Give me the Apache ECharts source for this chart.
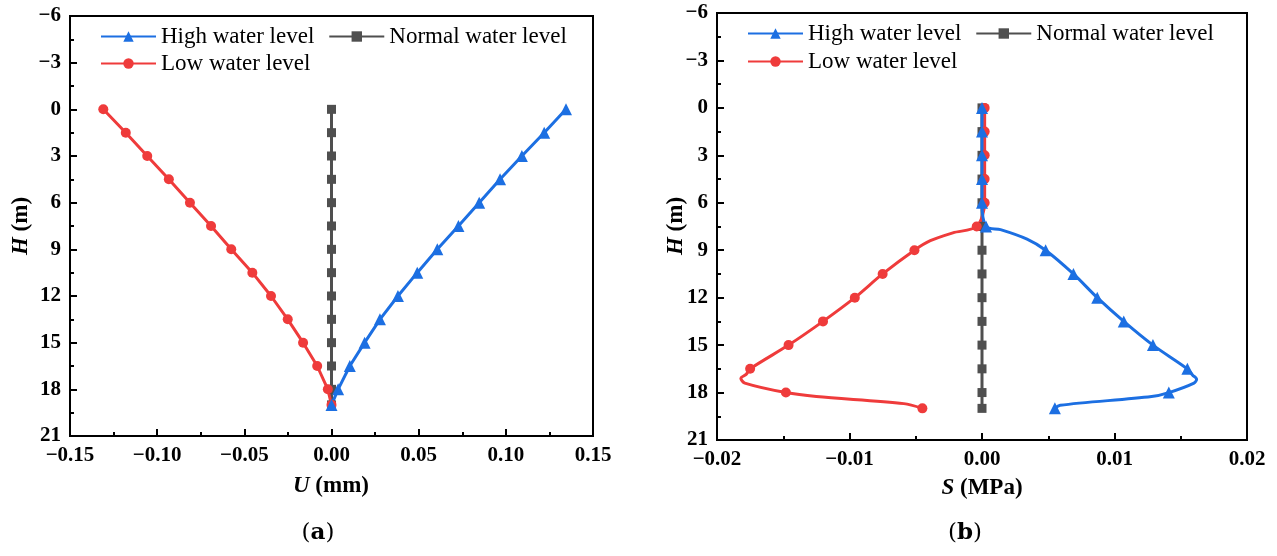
<!DOCTYPE html>
<html><head><meta charset="utf-8">
<script src="https://cdn.jsdelivr.net/npm/echarts@6/dist/echarts.min.js"></script>
<style>html,body{margin:0;padding:0;background:#fff;}#c{width:1277px;height:556px;}</style>
</head><body><div id="c"></div>
<script>
// depth H (m), shared by all marked points
const H = [0, 1.5, 3, 4.5, 6, 7.5, 9, 10.5, 12, 13.5, 15, 16.5, 18, 19];
// panel (a) displacement U (mm)
const uHigh = [0.1345, 0.122, 0.1092, 0.0967, 0.0847, 0.0728, 0.0607, 0.0492, 0.0381, 0.0278, 0.019, 0.0105, 0.0038, 0];
const uLow = [-0.1309, -0.118, -0.1057, -0.0933, -0.0812, -0.0691, -0.0575, -0.0454, -0.0347, -0.0251, -0.0163, -0.0082, -0.0021, 0];
const uNormal = [0, 0, 0, 0, 0, 0, 0, 0, 0, 0, 0, 0, 0, 0];
// panel (b) stress S (MPa), marked points
const sHigh = [0, 0, 0, 0, 0, 0.0003, 0.0048, 0.0069, 0.0087, 0.0107, 0.0129, 0.0155, 0.0141, 0.0055];
const sLow = [0.0002, 0.0002, 0.0002, 0.0002, 0.0002, -0.0004, -0.0051, -0.0075, -0.0096, -0.0120, -0.0146, -0.0175, -0.0148, -0.0045];
const sNormal = [0, 0, 0, 0, 0, 0, 0, 0, 0, 0, 0, 0, 0, 0];
// panel (b) unmarked points of the drawn curves
const hCurveHigh = [7.7, 8.3, 16.9, 17.15, 17.4, 18.25, 18.8];
const sCurveHigh = [0.0014, 0.0034, 0.0159, 0.0162, 0.0160, 0.0128, 0.0059];
const hCurveLow = [7.9, 8.4, 16.85, 17.1, 17.4, 18.25, 18.7];
const sCurveLow = [-0.0022, -0.0039, -0.0178, -0.0182, -0.0179, -0.0125, -0.0059];
// axis ticks
const yTicks = {min: -6, max: 21, interval: 3};
const uTicks = {min: -0.15, max: 0.15, interval: 0.05};
const sTicks = {min: -0.02, max: 0.02, interval: 0.01};
const names = ['High water level', 'Normal water level', 'Low water level'];

const BLUE = '#1c6fe2', RED = '#ef3b3b', GRAY = '#4f4f4f';
const SERIF = '"Liberation Serif","Times New Roman",serif';

function pts(xs) { return xs.map((x, i) => [x, H[i]]); }
function withCurve(xs, cx, ch) {
  const a = xs.map((x, i) => ({value: [x, H[i]]}));
  cx.forEach((x, i) => a.push({value: [x, ch[i]], symbol: 'none'}));
  a.sort((p, q) => p.value[1] - q.value[1]);
  return a;
}
const fmt = v => (v < 0 ? '\u2212' : '') + Math.abs(v).toFixed(2);
const fmtY = v => (v < 0 ? '\u2212' : '') + Math.abs(Math.round(v));

function xAxis(idx, t) {
  return {type: 'value', gridIndex: idx, min: t.min, max: t.max, interval: t.interval,
    axisLine: {onZero: false, lineStyle: {color: '#000', width: 2}},
    axisTick: {inside: true, length: 7, lineStyle: {color: '#000', width: 2}},
    minorTick: {show: true, splitNumber: 2, length: 4, lineStyle: {color: '#000', width: 2}},
    splitLine: {show: false},
    axisLabel: {formatter: fmt, margin: 9, color: '#000', fontFamily: SERIF, fontWeight: 'bold', fontSize: 21}};
}
function yAxis(idx) {
  return {type: 'value', gridIndex: idx, inverse: true, min: yTicks.min, max: yTicks.max, interval: yTicks.interval,
    axisLine: {onZero: false, lineStyle: {color: '#000', width: 2}},
    axisTick: {inside: true, length: 7, lineStyle: {color: '#000', width: 2}},
    minorTick: {show: true, splitNumber: 2, length: 4, lineStyle: {color: '#000', width: 2}},
    splitLine: {show: false},
    axisLabel: {formatter: fmtY, margin: 9, color: '#000', fontFamily: SERIF, fontWeight: 'bold', fontSize: 21}};
}
function ser(name, idx, data, color, symbol, size, smooth) {
  return {name, type: 'line', xAxisIndex: idx, yAxisIndex: idx, data, smooth: smooth || false,
    symbol, symbolSize: size, showAllSymbol: true, animation: false,
    lineStyle: {color, width: 3}, itemStyle: {color}, z: 3};
}
function legend(left, top, data) {
  return {left, top, padding: 0, itemGap: 14, itemWidth: 55, itemHeight: 13, data,
    textStyle: {fontFamily: SERIF, fontSize: 23, color: '#000'}, selectedMode: false};
}

const chart = echarts.init(document.getElementById('c'));
chart.setOption({
  backgroundColor: '#fff',
  animation: false,
  grid: [
    {left: 70, top: 16, width: 523, height: 420, show: true, borderColor: '#000', borderWidth: 2},
    {left: 717, top: 13, width: 530, height: 427, show: true, borderColor: '#000', borderWidth: 2}
  ],
  xAxis: [xAxis(0, uTicks), xAxis(1, sTicks)],
  yAxis: [yAxis(0), yAxis(1)],
  legend: [
    legend(100, 25, [names[0], names[1]]),
    legend(100, 52, [names[2]]),
    legend(747, 22, [names[0], names[1]]),
    legend(747, 50, [names[2]])
  ],
  series: [
    ser(names[1], 0, pts(uNormal), GRAY, 'rect', 9),
    ser(names[2], 0, pts(uLow), RED, 'circle', 10),
    ser(names[0], 0, pts(uHigh), BLUE, 'triangle', 12),
    ser(names[1], 1, pts(sNormal), GRAY, 'rect', 9),
    ser(names[2], 1, withCurve(sLow, sCurveLow, hCurveLow), RED, 'circle', 10, 0.3),
    ser(names[0], 1, withCurve(sHigh, sCurveHigh, hCurveHigh), BLUE, 'triangle', 12, 0.3)
  ],
  graphic: [
    {type: 'text', x: 21, y: 226, rotation: Math.PI / 2, style: {text: '{i|H} (m)', align: 'center', verticalAlign: 'middle', fontFamily: SERIF, fontWeight: 'bold', fontSize: 23, fill: '#000', rich: {i: {fontStyle: 'italic', fontWeight: 'bold', fontFamily: SERIF, fontSize: 23}}}},
    {type: 'text', x: 676, y: 226, rotation: Math.PI / 2, style: {text: '{i|H} (m)', align: 'center', verticalAlign: 'middle', fontFamily: SERIF, fontWeight: 'bold', fontSize: 23, fill: '#000', rich: {i: {fontStyle: 'italic', fontWeight: 'bold', fontFamily: SERIF, fontSize: 23}}}},
    {type: 'text', x: 331, y: 486, style: {text: '{i|U} (mm)', align: 'center', verticalAlign: 'middle', fontFamily: SERIF, fontWeight: 'bold', fontSize: 23, fill: '#000', rich: {i: {fontStyle: 'italic', fontWeight: 'bold', fontFamily: SERIF, fontSize: 23}}}},
    {type: 'text', x: 982, y: 488, style: {text: '{i|S} (MPa)', align: 'center', verticalAlign: 'middle', fontFamily: SERIF, fontWeight: 'bold', fontSize: 23, fill: '#000', rich: {i: {fontStyle: 'italic', fontWeight: 'bold', fontFamily: SERIF, fontSize: 23}}}},
    {type: 'text', x: 318, y: 533, style: {text: '({b|a})', align: 'center', verticalAlign: 'middle', fontFamily: '"DejaVu Serif",serif', fontSize: 23, fill: '#000', rich: {b: {fontWeight: 'bold', fontFamily: '"DejaVu Serif",serif', fontSize: 23}}}},
    {type: 'text', x: 965, y: 533, style: {text: '({b|b})', align: 'center', verticalAlign: 'middle', fontFamily: '"DejaVu Serif",serif', fontSize: 23, fill: '#000', rich: {b: {fontWeight: 'bold', fontFamily: '"DejaVu Serif",serif', fontSize: 23}}}}
  ]
});
</script></body></html>
